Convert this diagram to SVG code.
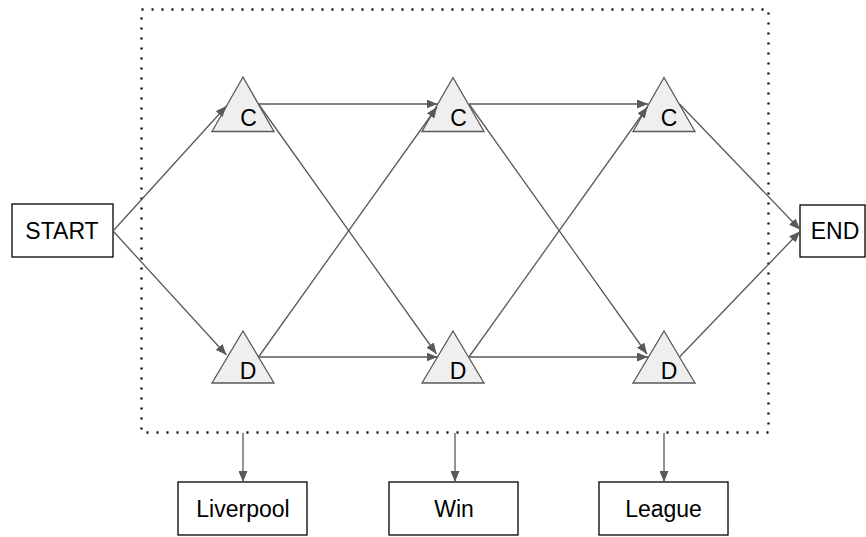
<svg xmlns="http://www.w3.org/2000/svg" width="866" height="537" viewBox="0 0 866 537">
<style>
.box{fill:#fff;stroke:#000;stroke-width:1.3}
.tri{fill:#efefef;stroke:#595959;stroke-width:1.3;stroke-linejoin:miter}
.lbl{font-family:"Liberation Sans",Arial,sans-serif;font-size:23px;fill:#000;text-anchor:middle}
.edge{stroke:#595959;stroke-width:1.3;fill:none;marker-end:url(#ah)}
.frame{fill:none;stroke:#111;stroke-width:2.4;stroke-dasharray:2 8}
</style>
<defs>
<marker id="ah" markerUnits="userSpaceOnUse" markerWidth="11" markerHeight="9" refX="11" refY="4.5" orient="auto">
<path d="M0,0 L11,4.5 L0,9 z" fill="#595959"/>
</marker>
</defs>
<rect width="866" height="537" fill="#fff"/>
<g id="frame"><rect class="frame" x="141.5" y="9.5" width="627" height="423"/></g>
<g id="start"><rect class="box" x="12" y="204" width="101" height="53"/><text class="lbl" x="62" y="238.5">START</text></g>
<g id="end"><rect class="box" x="800" y="205" width="65" height="52"/><text class="lbl" x="835" y="238.5">END</text></g>
<g id="c1"><polygon class="tri" points="243,77 274,131.5 212,131.5"/><text class="lbl" x="248.5" y="126">C</text></g>
<g id="d1"><polygon class="tri" points="243,331 274,383 212,383"/><text class="lbl" x="248" y="379">D</text></g>
<g id="c2"><polygon class="tri" points="453,77.5 484,131.5 422,131.5"/><text class="lbl" x="458.5" y="126">C</text></g>
<g id="d2"><polygon class="tri" points="453,331 484,383 422,383"/><text class="lbl" x="458" y="379">D</text></g>
<g id="c3"><polygon class="tri" points="664,77.5 695,131.5 633,131.5"/><text class="lbl" x="669" y="126">C</text></g>
<g id="d3"><polygon class="tri" points="664,331 695,383 633,383"/><text class="lbl" x="669" y="379">D</text></g>
<g id="liverpool"><rect class="box" x="178" y="482" width="129" height="53"/><text class="lbl" x="243" y="517">Liverpool</text></g>
<g id="win"><rect class="box" x="389" y="482" width="129" height="53"/><text class="lbl" x="454" y="517">Win</text></g>
<g id="league"><rect class="box" x="599" y="482" width="129" height="53"/><text class="lbl" x="663.5" y="517">League</text></g>
<g id="connectors">
<line class="edge" x1="113" y1="231" x2="226.5" y2="106"/>
<line class="edge" x1="113" y1="231" x2="226.5" y2="355"/>
<line class="edge" x1="258.5" y1="104" x2="437.5" y2="104"/>
<line class="edge" x1="258.5" y1="104" x2="436.5" y2="354"/>
<line class="edge" x1="258.5" y1="357" x2="437" y2="107"/>
<line class="edge" x1="258.5" y1="357" x2="437.5" y2="357"/>
<line class="edge" x1="469" y1="104" x2="648" y2="104"/>
<line class="edge" x1="469" y1="104" x2="647" y2="354"/>
<line class="edge" x1="469" y1="357" x2="647.5" y2="107"/>
<line class="edge" x1="469" y1="357" x2="648" y2="357"/>
<line class="edge" x1="679.5" y1="104" x2="800" y2="229.5"/>
<line class="edge" x1="679.5" y1="357" x2="800" y2="231.5"/>
<line class="edge" x1="243" y1="433" x2="243" y2="482"/>
<line class="edge" x1="455" y1="433" x2="455" y2="482"/>
<line class="edge" x1="664" y1="433" x2="664" y2="482"/>
</g>
</svg>
